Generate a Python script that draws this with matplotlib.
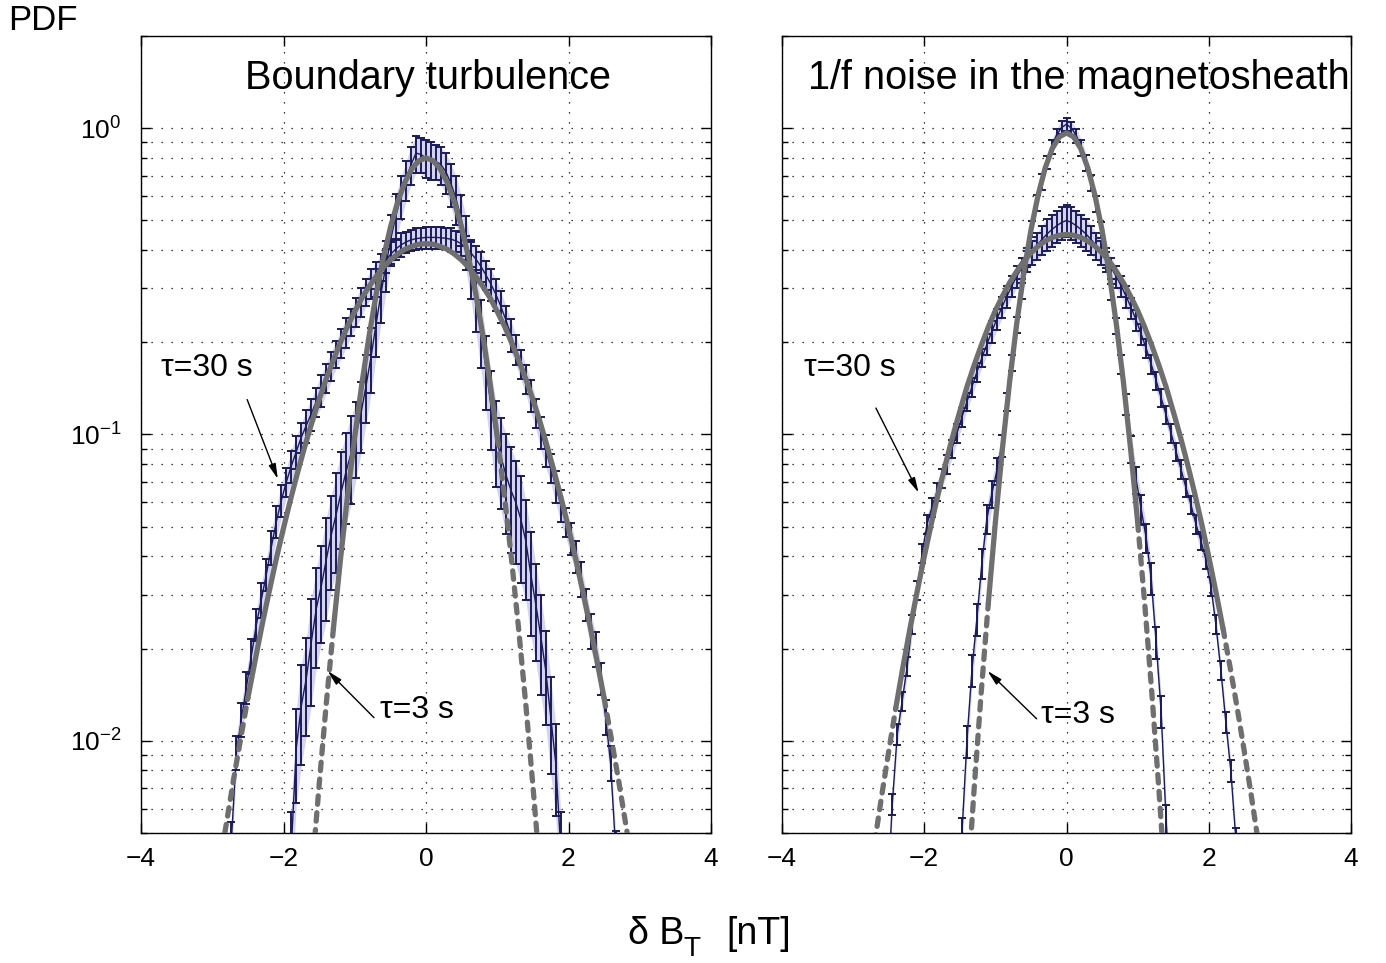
import numpy as np
import matplotlib
matplotlib.use('Agg')
import matplotlib.pyplot as plt
from matplotlib.ticker import LogLocator, NullFormatter, FixedLocator

plt.rcParams['font.family'] = ['Liberation Sans', 'DejaVu Sans']
plt.rcParams['mathtext.fontset'] = 'custom'
plt.rcParams['mathtext.rm'] = 'Liberation Sans'
plt.rcParams['mathtext.it'] = 'Liberation Sans:italic'
plt.rcParams['mathtext.default'] = 'regular'

# ---------------- data ----------------
BIN = 0.07  # bin width of the PDFs [nT]

# Left panel: boundary turbulence
left_tau30_k0 = -39
left_tau30 = [0.0048, 0.0092, 0.0118, 0.0150, 0.019, 0.024, 0.029, 0.035, 0.043, 0.052,
              0.061, 0.070, 0.079, 0.088, 0.098, 0.107, 0.117, 0.128, 0.140, 0.153,
              0.168, 0.183, 0.199, 0.216, 0.233, 0.252, 0.272, 0.292, 0.312, 0.332,
              0.352, 0.371, 0.389, 0.404, 0.416, 0.425, 0.432, 0.436, 0.438, 0.440,
              0.440, 0.440, 0.439, 0.437, 0.434, 0.429, 0.420, 0.408, 0.392, 0.374,
              0.354, 0.332, 0.310, 0.287, 0.262, 0.237, 0.212, 0.190, 0.170, 0.152,
              0.135, 0.118, 0.102, 0.089, 0.078, 0.068, 0.059, 0.052, 0.046, 0.040,
              0.034, 0.028, 0.023, 0.020, 0.016, 0.012, 0.0085, 0.0045]
left_tau30_rel = [0.13, 0.13, 0.13, 0.12, 0.13, 0.12, 0.13, 0.12, 0.13,
                  0.12, 0.12, 0.11, 0.12, 0.12, 0.11, 0.12, 0.12, 0.11, 0.12,
                  0.11, 0.11, 0.10, 0.11, 0.11, 0.10, 0.11, 0.11, 0.10, 0.11, 0.10, 0.10,
                  0.09, 0.09, 0.08, 0.09, 0.08, 0.08, 0.08, 0.08, 0.08, 0.08, 0.08, 0.08,
                  0.08, 0.09, 0.08, 0.09, 0.09,
                  0.10, 0.10, 0.11, 0.11, 0.12, 0.12, 0.12, 0.11, 0.12, 0.11, 0.11, 0.11,
                  0.12, 0.11, 0.12, 0.12, 0.11, 0.12, 0.12, 0.11, 0.12, 0.12,
                  0.13, 0.12, 0.13, 0.13, 0.12, 0.13, 0.13, 0.13]

left_tau3_k0 = -27
left_tau3 = [0.0045, 0.0095, 0.013, 0.016, 0.021, 0.027, 0.032, 0.039, 0.047, 0.055,
             0.065, 0.076, 0.087, 0.100, 0.118, 0.145, 0.18, 0.23, 0.29, 0.36,
             0.44, 0.52, 0.60, 0.68, 0.76, 0.83, 0.82, 0.80, 0.79, 0.78,
             0.76, 0.72, 0.66, 0.59, 0.51, 0.43, 0.35, 0.28, 0.22, 0.165,
             0.125, 0.098, 0.085, 0.074, 0.066, 0.060, 0.053, 0.045, 0.035, 0.028,
             0.022, 0.017, 0.012, 0.0085, 0.0045]
left_tau3_rel = [0.30, 0.34, 0.36, 0.35, 0.38, 0.36, 0.35, 0.37, 0.34, 0.36, 0.35, 0.33, 0.32,
                 0.28, 0.26, 0.25, 0.24, 0.22,
                 0.20, 0.19, 0.18, 0.17, 0.16,
                 0.15, 0.14, 0.14, 0.13, 0.14, 0.14, 0.13, 0.14, 0.15,
                 0.16, 0.18, 0.19, 0.20, 0.21,
                 0.23, 0.25, 0.27, 0.29, 0.31,
                 0.33, 0.36, 0.38, 0.37, 0.38, 0.36, 0.37, 0.35, 0.36, 0.34, 0.35, 0.33, 0.30]

# Right panel: 1/f noise in the magnetosheath
right_tau30_k0 = -36
right_tau30 = [0.0030, 0.0062, 0.0105, 0.0135, 0.0175, 0.024, 0.031, 0.041, 0.051, 0.058,
               0.065, 0.072, 0.080, 0.090, 0.101, 0.114, 0.128, 0.143, 0.160, 0.178,
               0.197, 0.217, 0.238, 0.260, 0.282, 0.305, 0.328, 0.350, 0.372, 0.393,
               0.413, 0.432, 0.450, 0.466, 0.480, 0.492, 0.500, 0.492, 0.480, 0.466,
               0.450, 0.432, 0.413, 0.393, 0.372, 0.350, 0.328, 0.305, 0.282, 0.259,
               0.236, 0.213, 0.191, 0.170, 0.150, 0.132, 0.116, 0.101, 0.088, 0.077,
               0.067, 0.059, 0.051, 0.045, 0.039, 0.032, 0.024, 0.017, 0.0115, 0.0080,
               0.0048]
right_tau30_rel = [0.08, 0.08, 0.08, 0.07, 0.07, 0.07, 0.07, 0.07, 0.07, 0.07, 0.07,
                   0.07, 0.07, 0.07, 0.07, 0.07, 0.07, 0.07, 0.07, 0.07, 0.08,
                   0.08, 0.08, 0.08, 0.08, 0.08, 0.08, 0.08, 0.09, 0.09, 0.10,
                   0.11, 0.12, 0.12, 0.12, 0.12, 0.12, 0.12, 0.12, 0.12, 0.12,
                   0.11, 0.10, 0.09, 0.09, 0.08, 0.08, 0.08, 0.08, 0.08, 0.08,
                   0.08, 0.07, 0.07, 0.07, 0.07, 0.07, 0.07, 0.07, 0.07, 0.07,
                   0.07, 0.07, 0.07, 0.07, 0.07, 0.07, 0.07, 0.08, 0.08, 0.08]

right_tau3_k0 = -22
right_tau3 = [0.0028, 0.0050, 0.0100, 0.0170, 0.025, 0.038, 0.053, 0.064, 0.076, 0.092,
              0.128, 0.172, 0.228, 0.295, 0.375, 0.470, 0.570, 0.670, 0.775, 0.870,
              0.950, 1.005, 1.030, 1.000, 0.945, 0.865, 0.770, 0.665, 0.565, 0.465,
              0.372, 0.292, 0.226, 0.170, 0.126, 0.090, 0.071, 0.057, 0.046, 0.034,
              0.021, 0.0125, 0.0055, 0.0030]
right_tau3_rel = [0.12, 0.12, 0.12, 0.12, 0.12, 0.11, 0.11, 0.10, 0.10,
                  0.08, 0.07, 0.06, 0.06, 0.06, 0.06, 0.06, 0.06, 0.06,
                  0.05, 0.05, 0.05, 0.05, 0.05, 0.05, 0.05,
                  0.06, 0.06, 0.06, 0.06, 0.06, 0.06, 0.06, 0.06, 0.07,
                  0.08, 0.10, 0.10, 0.11, 0.11, 0.12, 0.12, 0.12, 0.12, 0.12]

# model fits (grey curves)
fit_x_left_wide = [-2.9, -2.8, -2.7, -2.6, -2.5, -2.4, -2.3, -2.2, -2.1, -2.0, -1.9, -1.8, -1.7,
                   -1.6, -1.5, -1.4, -1.3, -1.2, -1.1, -1.0, -0.9, -0.8, -0.7, -0.6, -0.5,
                   -0.4, -0.3, -0.2, -0.1, 0.0, 0.1, 0.2, 0.3, 0.4, 0.5, 0.6, 0.7, 0.8, 0.9,
                   1.0, 1.1, 1.2, 1.3, 1.4, 1.5, 1.6, 1.7, 1.8, 1.9, 2.0, 2.1, 2.2, 2.3,
                   2.4, 2.5, 2.6, 2.7, 2.8, 2.9]
fit_y_left_wide = [0.0039, 0.0054, 0.0075, 0.0102, 0.0138, 0.0182, 0.0239, 0.0308, 0.0394,
                   0.0495, 0.0615, 0.0755, 0.0916, 0.110, 0.130, 0.152, 0.175, 0.200,
                   0.226, 0.252, 0.279, 0.304, 0.328, 0.351, 0.371, 0.388, 0.402, 0.411,
                   0.418, 0.420, 0.418, 0.411, 0.402, 0.388, 0.371, 0.351, 0.328, 0.304,
                   0.279, 0.252, 0.226, 0.200, 0.175, 0.152, 0.130, 0.110, 0.0916, 0.0755,
                   0.0615, 0.0495, 0.0394, 0.0308, 0.0239, 0.0182, 0.0138, 0.0102, 0.0075,
                   0.0054, 0.0039]
fit_x_left_narrow = [-1.6, -1.5, -1.4, -1.3, -1.2, -1.1, -1.0, -0.9, -0.8, -0.7, -0.6, -0.5,
                     -0.4, -0.3, -0.2, -0.1, 0.0, 0.1, 0.2, 0.3, 0.4, 0.5, 0.6, 0.7, 0.8,
                     0.9, 1.0, 1.1, 1.2, 1.3, 1.4, 1.5, 1.6]
fit_y_left_narrow = [0.00374, 0.00716, 0.0132, 0.0232, 0.0392, 0.0634, 0.0984, 0.1465, 0.209,
                     0.287, 0.376, 0.474, 0.572, 0.663, 0.736, 0.783, 0.800, 0.783, 0.736,
                     0.663, 0.572, 0.474, 0.376, 0.287, 0.209, 0.1465, 0.0984, 0.0634,
                     0.0392, 0.0232, 0.0132, 0.00716, 0.00374]
fit_x_right_wide = [-2.8, -2.7, -2.6, -2.5, -2.4, -2.3, -2.2, -2.1, -2.0, -1.9, -1.8, -1.7,
                    -1.6, -1.5, -1.4, -1.3, -1.2, -1.1, -1.0, -0.9, -0.8, -0.7, -0.6, -0.5,
                    -0.4, -0.3, -0.2, -0.1, 0.0, 0.1, 0.2, 0.3, 0.4, 0.5, 0.6, 0.7, 0.8, 0.9,
                    1.0, 1.1, 1.2, 1.3, 1.4, 1.5, 1.6, 1.7, 1.8, 1.9, 2.0, 2.1, 2.2, 2.3,
                    2.4, 2.5, 2.6, 2.7, 2.8]
fit_y_right_wide = [0.00318, 0.00461, 0.00658, 0.00923, 0.0128, 0.0174, 0.0233, 0.0307,
                    0.0399, 0.0512, 0.0646, 0.0803, 0.0986, 0.119, 0.143, 0.168, 0.195,
                    0.224, 0.254, 0.283, 0.313, 0.341, 0.368, 0.391, 0.412, 0.428, 0.440,
                    0.447, 0.450, 0.447, 0.440, 0.428, 0.412, 0.391, 0.368, 0.341, 0.313,
                    0.283, 0.254, 0.224, 0.195, 0.168, 0.143, 0.119, 0.0986, 0.0803,
                    0.0646, 0.0512, 0.0399, 0.0307, 0.0233, 0.0174, 0.0128, 0.00923,
                    0.00658, 0.00461, 0.00318]
fit_x_right_narrow = [-1.4, -1.3, -1.2, -1.1, -1.0, -0.9, -0.8, -0.7, -0.6, -0.5, -0.4, -0.3,
                      -0.2, -0.1, 0.0, 0.1, 0.2, 0.3, 0.4, 0.5, 0.6, 0.7, 0.8, 0.9, 1.0,
                      1.1, 1.2, 1.3, 1.4]
fit_y_right_narrow = [0.00313, 0.00689, 0.0143, 0.0280, 0.0518, 0.0903, 0.1485, 0.230, 0.337,
                      0.465, 0.604, 0.741, 0.858, 0.937, 0.965, 0.937, 0.858, 0.741, 0.604,
                      0.465, 0.337, 0.230, 0.1485, 0.0903, 0.0518, 0.0280, 0.0143, 0.00689,
                      0.00313]

panel_titles = ['Boundary turbulence', '1/f noise in the magnetosheath']
xticks = [-4, -2, 0, 2, 4]

# ---------------- styling ----------------
NAVY = '#1b1b5a'
FILL = '#d4d4ee'
GREY = '#6f6f6f'
GRID_LS = (0, (1, 7))

fig = plt.figure(figsize=(13.86, 9.63), dpi=100)
W, H = 1386.0, 963.0
axL = fig.add_axes([141 / W, (H - 833) / H, 570 / W, 797 / H])
axR = fig.add_axes([782 / W, (H - 833) / H, 569 / W, 797 / H])


def bin_centers(k0, n):
    return np.round((k0 + np.arange(n)) * BIN, 3)


def draw_series(ax, k0, vals, rel):
    y = np.asarray(vals, float)
    x = bin_centers(k0, len(y))
    err = y * np.asarray(rel, float)
    ax.fill_between(x, y - err, y + err, color=FILL, lw=0, zorder=1)
    ax.errorbar(x, y, yerr=err, fmt='-', color=NAVY, lw=1.0, elinewidth=1.4,
                capsize=2.8, capthick=1.4, zorder=2)


def draw_fit(ax, xs, ys, thr_left, thr_right):
    xs = np.asarray(xs, float)
    ys = np.asarray(ys, float)
    peak = int(np.argmax(ys))
    left_ok = np.where(ys[:peak + 1] >= thr_left)[0]
    right_ok = np.where(ys[peak:] >= thr_right)[0]
    i0 = left_ok[0]
    i1 = peak + right_ok[-1]
    ax.plot(xs[i0:i1 + 1], ys[i0:i1 + 1], color=GREY, lw=3.8, solid_capstyle='round',
            zorder=4)
    kw = dict(color=GREY, lw=3.8, dashes=(1.6, 1.6), dash_capstyle='round', zorder=4)
    ax.plot(xs[:i0 + 1], ys[:i0 + 1], **kw)
    ax.plot(xs[i1:], ys[i1:], **kw)


def style_axes(ax, show_ylabels):
    ax.set_yscale('log')
    ax.set_xlim(-4, 4)
    ax.set_ylim(0.005, 2)
    ax.xaxis.set_major_locator(FixedLocator(xticks))
    ax.yaxis.set_major_locator(LogLocator(base=10, numticks=10))
    ax.yaxis.set_minor_locator(LogLocator(base=10, subs=np.arange(2, 10), numticks=20))
    ax.yaxis.set_minor_formatter(NullFormatter())
    ax.grid(True, which='major', axis='both', ls=GRID_LS, color='k', lw=0.9)
    ax.grid(True, which='minor', axis='y', ls=GRID_LS, color='k', lw=0.9)
    ax.tick_params(which='both', direction='in', top=True, right=True, width=1.0,
                   labelsize=19, colors='k')
    ax.tick_params(which='major', length=7)
    ax.tick_params(which='minor', length=4)
    ax.tick_params(axis='x', pad=10)
    ax.tick_params(axis='y', pad=14)
    if not show_ylabels:
        ax.tick_params(axis='y', labelleft=False)
    for s in ax.spines.values():
        s.set_linewidth(1.0)
    ax.set_axisbelow(True)


# left panel
draw_series(axL, left_tau30_k0, left_tau30, left_tau30_rel)
draw_series(axL, left_tau3_k0, left_tau3, left_tau3_rel)
draw_fit(axL, fit_x_left_wide, fit_y_left_wide, 0.012, 0.012)
draw_fit(axL, fit_x_left_narrow, fit_y_left_narrow, 0.02, 0.07)
style_axes(axL, True)

# right panel
draw_series(axR, right_tau30_k0, right_tau30, right_tau30_rel)
draw_series(axR, right_tau3_k0, right_tau3, right_tau3_rel)
draw_fit(axR, fit_x_right_wide, fit_y_right_wide, 0.012, 0.018)
draw_fit(axR, fit_x_right_narrow, fit_y_right_narrow, 0.02, 0.03)
style_axes(axR, False)

# titles inside panels
axL.text(0.03, 1.34, panel_titles[0], ha='center', va='baseline', fontsize=28.5)
axR.text(0.18, 1.34, panel_titles[1], ha='center', va='baseline', fontsize=28.5)

# annotations
arrow = dict(arrowstyle='-|>,head_length=0.9,head_width=0.22', color='k', lw=1.0,
             shrinkA=0, shrinkB=0)
axL.annotate('', xy=(-2.08, 0.0716), xytext=(-2.51, 0.130), arrowprops=arrow, zorder=6)
axL.text(-3.07, 0.165, '\u03c4=30 s', ha='center', va='center', fontsize=23)
axL.annotate('', xy=(-1.38, 0.0169), xytext=(-0.73, 0.0119), arrowprops=arrow, zorder=6)
axL.text(-0.13, 0.0126, '\u03c4=3 s', ha='center', va='center', fontsize=23)

axR.annotate('', xy=(-2.08, 0.0646), xytext=(-2.68, 0.122), arrowprops=arrow, zorder=6)
axR.text(-3.04, 0.165, '\u03c4=30 s', ha='center', va='center', fontsize=23)
axR.annotate('', xy=(-1.11, 0.0169), xytext=(-0.42, 0.0118), arrowprops=arrow, zorder=6)
axR.text(0.16, 0.0121, '\u03c4=3 s', ha='center', va='center', fontsize=23)

# axis labels
fig.text(8 / W, 1 - 30 / H, 'PDF', ha='left', va='baseline', fontsize=25)
fig.text(628 / W, 1 - 944 / H, '\u03b4 B', ha='left', va='baseline', fontsize=27)
fig.text(683 / W, 1 - 956 / H, 'T', ha='left', va='baseline', fontsize=20)
fig.text(726 / W, 1 - 944 / H, '[nT]', ha='left', va='baseline', fontsize=27)

fig.savefig('out.png', dpi=100)
